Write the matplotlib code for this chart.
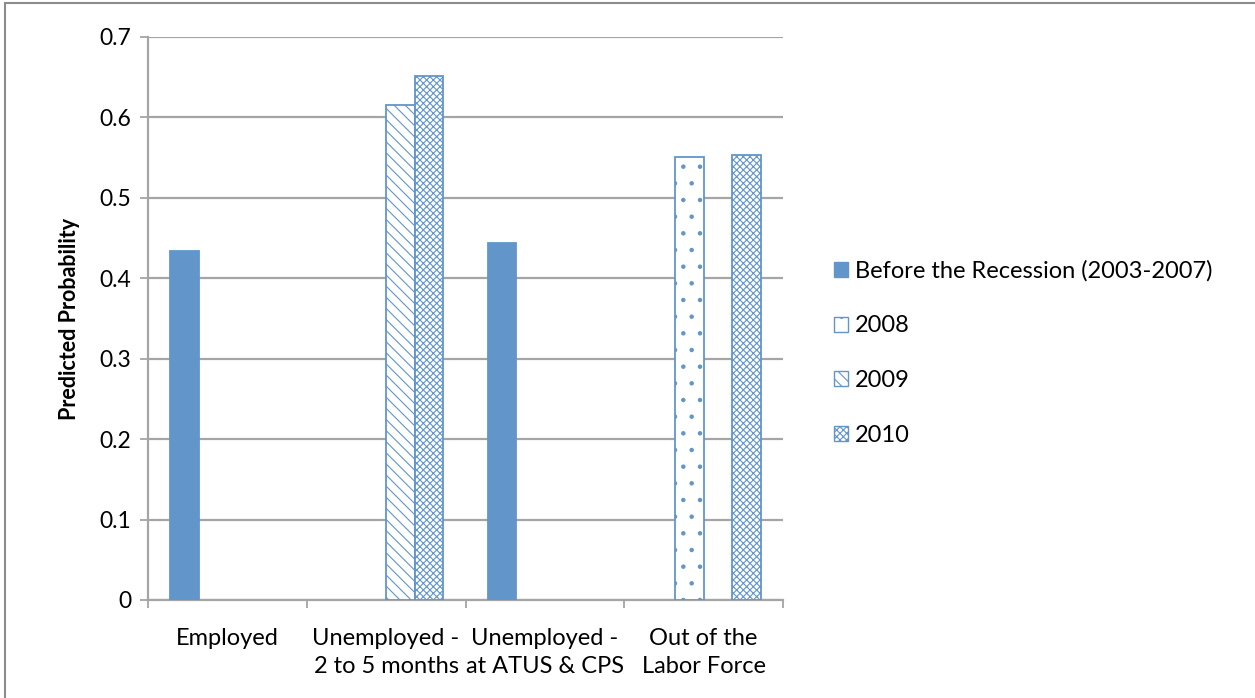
import numpy as np
import matplotlib.pyplot as plt
from matplotlib.patches import Rectangle, Patch

plt.rcParams["font.family"] = ["Lato", "DejaVu Sans"]
plt.rcParams["hatch.linewidth"] = 0.8

# predicted probabilities by labour-force status and period
categories = ["Employed", "Unemployed -\n2 to 5 months", "Unemployed -\nat ATUS & CPS", "Out of the\nLabor Force"]
series_names = ["Before the Recession (2003-2007)", "2008", "2009", "2010"]
before_recession = [0.434, np.nan, 0.444, np.nan]
year_2008 = [np.nan, np.nan, np.nan, 0.551]
year_2009 = [np.nan, 0.615, np.nan, np.nan]
year_2010 = [np.nan, 0.651, np.nan, 0.553]
y_ticks = [0, 0.1, 0.2, 0.3, 0.4, 0.5, 0.6, 0.7]

BLUE = "#6295CA"
GRID = "#A5A5A5"
series = [before_recession, year_2008, year_2009, year_2010]
faces = [BLUE, "white", "white", "white"]
hatches = [None, ".", "\\\\\\", "xxxxx"]

fig = plt.figure(figsize=(12.55, 6.98), dpi=100)
ax = fig.add_axes([148 / 1255, 1 - 600 / 698, 635 / 1255, 563 / 698])

x = np.arange(len(categories))
w = 0.18
for i, vals in enumerate(series):
    ax.bar(x + (i - 1.5) * w, vals, w, facecolor=faces[i], edgecolor=BLUE,
           hatch=hatches[i], linewidth=1.3, zorder=3)

ax.set_xlim(-0.5, len(categories) - 0.5)
ax.set_ylim(0, 0.7)
ax.set_yticks(y_ticks)
ax.set_yticklabels([f"{t:g}" for t in y_ticks], fontsize=16.5)
ax.yaxis.grid(True, color=GRID, linewidth=1.6, zorder=0)
ax.set_ylabel("Predicted Probability", fontsize=15.5, fontweight="bold", labelpad=14)

ax.set_xticks(x)
ax.set_xticklabels(categories, fontsize=17, linespacing=1.45)
ax.set_xticks(np.arange(len(categories) + 1) - 0.5, minor=True)
ax.tick_params(axis="x", which="major", length=0, pad=20)
ax.tick_params(axis="x", which="minor", length=6, width=1.3, color=GRID)
ax.tick_params(axis="y", length=6, width=1.3, color=GRID, pad=6)

for side in ["top", "right"]:
    ax.spines[side].set_visible(False)
for side in ["left", "bottom"]:
    ax.spines[side].set_color(GRID)
    ax.spines[side].set_linewidth(1.6)

handles = [Patch(facecolor=faces[i], edgecolor=BLUE, hatch=hatches[i], linewidth=1.0)
           for i in range(len(series_names))]
ax.legend(handles, series_names, loc="center left", bbox_to_anchor=(834 / 1255, 1 - 353 / 698),
          bbox_transform=fig.transFigure, frameon=False, fontsize=17,
          handlelength=0.6, handleheight=0.6, handletextpad=0.3,
          labelspacing=1.42, borderpad=0, borderaxespad=0)

# outer chart border
fig.add_artist(Rectangle((5 / 1255, -0.05), 1.2, 1.05 - 3 / 698, transform=fig.transFigure,
                         fill=False, edgecolor="#8C8C8C", linewidth=1.5))

fig.savefig("out.png", dpi=100)
